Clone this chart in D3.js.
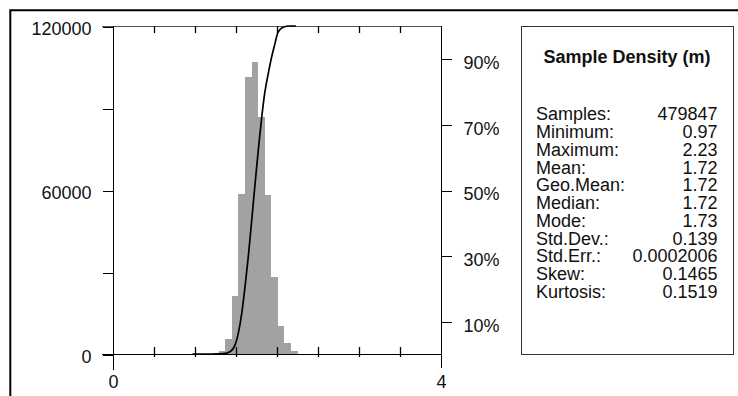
<!DOCTYPE html>
<html>
<head>
<meta charset="utf-8">
<script src="https://cdnjs.cloudflare.com/ajax/libs/d3/7.8.5/d3.min.js"></script>
<style>
  html, body { margin: 0; padding: 0; background: #fff; }
  svg { display: block; font-family: "Liberation Sans", Arial, sans-serif; }
</style>
</head>
<body>
<div id="chart"></div>
<script>
// histogram bins (start of bin, width 0.08) and sample counts
var binStarts = [1.29, 1.37, 1.45, 1.53, 1.61, 1.69, 1.77, 1.85, 1.93, 2.01, 2.09, 2.17],
    binCounts = [1100, 5500, 21400, 58700, 101200, 106900, 86800, 58200, 28000, 10200, 4000, 1100],
    binWidth = 0.08;

// cumulative curve
var cdfX   = [0.97, 1.20, 1.345, 1.427, 1.488, 1.528, 1.57, 1.61, 1.65, 1.69, 1.72, 1.75, 1.78, 1.81, 1.85, 1.894, 1.935, 1.976, 2.007, 2.04, 2.077, 2.15, 2.23],
    cdfPct = [0, 0, 0.1, 0.7, 2.7, 6.3, 12.4, 20.5, 29.7, 40.3, 48.5, 56.5, 64.2, 71.3, 79.5, 85.6, 90.6, 94.7, 97.8, 99.0, 99.6, 100, 100];

var xTicks = [0, 0.5, 1, 1.5, 2, 2.5, 3, 3.5, 4],
    xLabels = [0, 4],
    yTicks = [0, 30000, 60000, 90000, 120000],
    yLabels = [0, 60000, 120000],
    pctTicks = [10, 30, 50, 70, 90];

var statsTitle = 'Sample Density (m)',
    statNames = ['Samples:', 'Minimum:', 'Maximum:', 'Mean:', 'Geo.Mean:', 'Median:', 'Mode:', 'Std.Dev.:', 'Std.Err.:', 'Skew:', 'Kurtosis:'],
    statValues = ['479847', '0.97', '2.23', '1.72', '1.72', '1.72', '1.73', '0.139', '0.0002006', '0.1465', '0.1519'];

var width = 738,
    height = 396,
    plotL = 113, plotR = 441, plotT = 26, plotB = 354,
    fontSize = 18;

var x = d3.scaleLinear().domain([0, 4]).range([plotL, plotR]),
    y = d3.scaleLinear().domain([0, 120000]).range([plotB, plotT]),
    yPct = d3.scaleLinear().domain([0, 100]).range([plotB, plotT]);

var svg = d3.select('#chart')
    .append('svg')
    .attr('width', width)
    .attr('height', height);

// outer frame (only top/left edge visible)
svg.append('path')
    .attr('d', 'M10.3,' + height + 'V10.3H' + width)
    .attr('fill', 'none')
    .style('stroke', '#000')
    .style('stroke-width', 2);

// histogram
svg.append('g')
    .selectAll('rect')
    .data(binStarts)
    .enter()
    .append('rect')
    .attr('x', (d) => x(d))
    .attr('width', (d) => x(d + binWidth) - x(d))
    .attr('y', (d, i) => y(binCounts[i]))
    .attr('height', (d, i) => plotB - y(binCounts[i]))
    .attr('fill', '#a2a2a2')
    .attr('shape-rendering', 'crispEdges');

// frame lines of plot
var frame = svg.append('g').style('stroke-width', 1).attr('shape-rendering', 'crispEdges');
frame.append('line').attr('x1', plotL - 11).attr('x2', plotR).attr('y1', plotT + 0.5).attr('y2', plotT + 0.5).style('stroke', '#555');
frame.append('line').attr('x1', plotL - 11).attr('x2', plotR).attr('y1', plotB + 0.5).attr('y2', plotB + 0.5).style('stroke', '#000');
frame.append('line').attr('x1', plotL + 0.5).attr('x2', plotL + 0.5).attr('y1', plotT).attr('y2', 370).style('stroke', '#000');
frame.append('line').attr('x1', plotR + 0.5).attr('x2', plotR + 0.5).attr('y1', plotT).attr('y2', 368).style('stroke', '#000');

// left axis
var yAxis = d3.axisLeft(y)
    .tickValues(yTicks)
    .tickSize(11)
    .tickSizeOuter(0)
    .tickPadding(11)
    .tickFormat((d) => yLabels.indexOf(d) >= 0 ? d : '');

var gy = svg.append('g')
    .attr('transform', 'translate(' + (plotL + 0.5) + ',0.5)')
    .call(yAxis);
gy.select('.domain').remove();
gy.selectAll('text').attr('dy', '0.42em');

// right axis (percent)
var pAxis = d3.axisRight(yPct)
    .tickValues(pctTicks)
    .tickSize(10)
    .tickSizeOuter(0)
    .tickPadding(12)
    .tickFormat((d) => d + '%');

var gp = svg.append('g')
    .attr('transform', 'translate(' + (plotR + 0.5) + ',0.5)')
    .call(pAxis);
gp.select('.domain').remove();
gp.selectAll('text').attr('dy', '0.52em');

svg.selectAll('.tick text')
    .attr('font-family', '"Liberation Sans", Arial, sans-serif')
    .attr('font-size', fontSize + 'px')
    .attr('fill', '#111');
svg.selectAll('.tick line').style('stroke', '#000').attr('shape-rendering', 'crispEdges');

// x ticks, bottom (crossing) and top (inside)
svg.append('g')
    .selectAll('line')
    .data(xTicks.slice(1, -1))
    .enter()
    .append('line')
    .attr('x1', (d) => Math.round(x(d)) + 0.5)
    .attr('x2', (d) => Math.round(x(d)) + 0.5)
    .attr('y1', plotB - 7)
    .attr('y2', plotB + 3)
    .style('stroke', '#000')
    .style('stroke-width', 1.3);

svg.append('g')
    .selectAll('line')
    .data(xTicks.slice(1, -1))
    .enter()
    .append('line')
    .attr('x1', (d) => Math.round(x(d)) + 0.5)
    .attr('x2', (d) => Math.round(x(d)) + 0.5)
    .attr('y1', plotT)
    .attr('y2', plotT + 7)
    .style('stroke', '#000')
    .style('stroke-width', 1.3);

svg.append('g')
    .selectAll('text')
    .data(xLabels)
    .enter()
    .append('text')
    .text((d) => d)
    .attr('x', (d) => x(d) + 0.5)
    .attr('y', 388)
    .attr('font-size', fontSize + 'px')
    .attr('fill', '#111')
    .style('text-anchor', 'middle');

// cumulative curve
var line = d3.line()
    .x((d) => x(d))
    .y((d, i) => yPct(cdfPct[i]))
    .curve(d3.curveMonotoneX);

svg.append('path')
    .datum(cdfX)
    .attr('d', line)
    .attr('fill', 'none')
    .style('stroke', '#000')
    .style('stroke-width', 1.7);

// stats box
var box = svg.append('g');
box.append('rect')
    .attr('x', 521.5)
    .attr('y', plotT + 0.5)
    .attr('width', 212)
    .attr('height', plotB - plotT)
    .attr('fill', '#fff')
    .style('stroke', '#333')
    .style('stroke-width', 1);

box.append('text')
    .text(statsTitle)
    .attr('x', 627)
    .attr('y', 62.5)
    .attr('font-size', fontSize + 'px')
    .attr('font-weight', 'bold')
    .attr('fill', '#111')
    .style('text-anchor', 'middle');

box.append('g')
    .selectAll('text')
    .data(statNames)
    .enter()
    .append('text')
    .text((d) => d)
    .attr('x', 536)
    .attr('y', (d, i) => 120.2 + i * 17.77)
    .attr('font-size', fontSize + 'px')
    .attr('fill', '#111');

box.append('g')
    .selectAll('text')
    .data(statValues)
    .enter()
    .append('text')
    .text((d) => d)
    .attr('x', 717.5)
    .attr('y', (d, i) => 120.2 + i * 17.77)
    .attr('font-size', fontSize + 'px')
    .attr('fill', '#111')
    .style('text-anchor', 'end');
</script>
</body>
</html>
